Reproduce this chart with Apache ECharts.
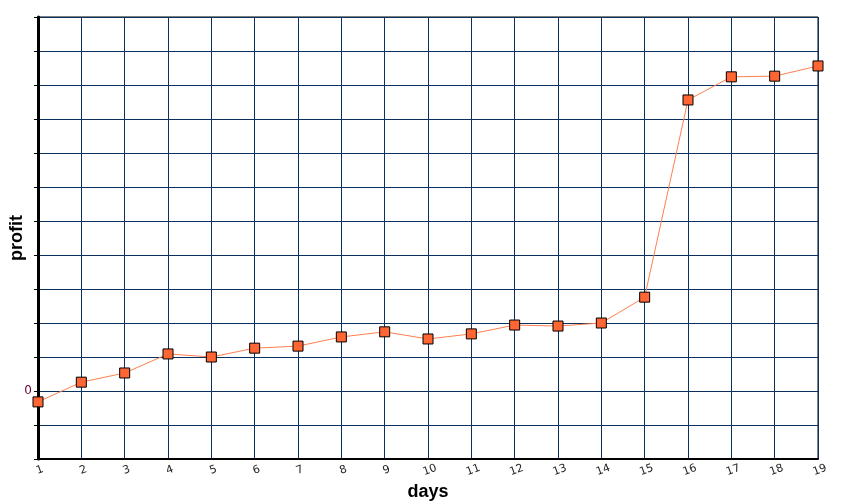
<!DOCTYPE html>
<html>
<head>
<meta charset="utf-8">
<script src="https://cdn.jsdelivr.net/npm/echarts@6/dist/echarts.min.js"></script>
<style>html,body{margin:0;padding:0;background:#fff}#c{width:842px;height:504px}</style>
</head>
<body>
<div id="c"></div>
<script>
var days = ['1','2','3','4','5','6','7','8','9','10','11','12','13','14','15','16','17','18','19'];
var profit = [-0.32, 0.26, 0.53, 1.09, 1.0, 1.26, 1.32, 1.59, 1.74, 1.53, 1.68, 1.94, 1.91, 2.0, 2.76, 8.56, 9.24, 9.26, 9.56];
var yShownLabels = [0];

var chart = echarts.init(document.getElementById('c'), null, {renderer: 'canvas'});
chart.setOption({
  animation: false,
  backgroundColor: '#ffffff',
  grid: {left: 38, right: 24, top: 17, bottom: 45, containLabel: false, outerBoundsMode: 'none',
    show: true, borderColor: '#000', borderWidth: 1, backgroundColor: 'transparent'},
  xAxis: {
    type: 'category',
    data: days,
    boundaryGap: false,
    name: 'days',
    nameLocation: 'middle',
    nameGap: 24,
    nameMoveOverlap: false,
    nameTextStyle: {fontFamily: 'Liberation Sans, Arial', fontWeight: 'bold', fontSize: 18, color: '#000'},
    axisLine: {onZero: false, lineStyle: {color: '#000', width: 2}},
    axisTick: {show: false},
    axisLabel: {rotate: 20, align: 'center', verticalAlign: 'top', margin: 6, fontSize: 11, color: '#222', fontFamily: 'DejaVu Sans', interval: 0},
    splitLine: {show: true, lineStyle: {color: '#0a3260', width: 1}}
  },
  yAxis: {
    type: 'value',
    min: -2, max: 11, interval: 1,
    name: 'profit',
    nameLocation: 'middle',
    nameGap: 12,
    nameMoveOverlap: false,
    nameRotate: 90,
    nameTextStyle: {fontFamily: 'Liberation Sans, Arial', fontWeight: 'bold', fontSize: 18, color: '#000'},
    axisLine: {show: true, onZero: false, lineStyle: {color: '#000', width: 3}},
    axisTick: {show: true, length: 4, lineStyle: {color: '#000', width: 1}},
    axisLabel: {margin: 6, fontSize: 12, color: '#660033', fontFamily: 'DejaVu Sans',
      formatter: function (v) { return yShownLabels.indexOf(v) >= 0 ? String(v) : ''; }},
    splitLine: {show: true, lineStyle: {color: '#0a3260', width: 1}}
  },
  series: [{
    type: 'line',
    data: profit,
    symbol: 'rect',
    symbolSize: 10,
    lineStyle: {color: '#ff7f50', width: 1},
    itemStyle: {color: '#ff6633', borderColor: '#000', borderWidth: 1},
    z: 5
  }]
});
</script>
</body>
</html>
